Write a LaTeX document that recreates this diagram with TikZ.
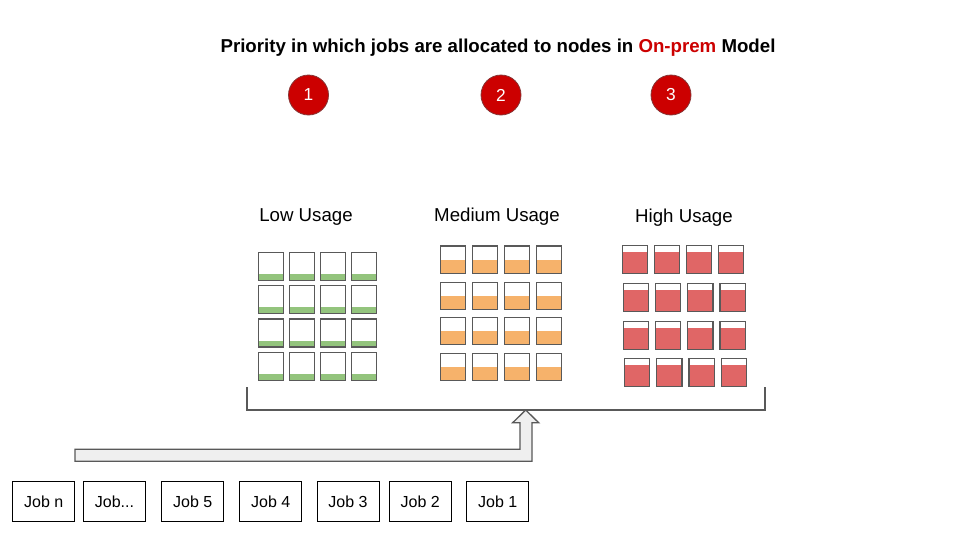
\documentclass[tikz,border=0pt]{standalone}
\usepackage{fontspec}
\setmainfont{Liberation Sans}
\definecolor{lowg}{HTML}{93C47D}
\definecolor{medo}{HTML}{F6B26B}
\definecolor{highr}{HTML}{E06666}
\definecolor{darkr}{HTML}{CC0000}
\definecolor{edge}{HTML}{595959}
\definecolor{arrowfill}{HTML}{EFEFEF}
\begin{document}
\begin{tikzpicture}[x=0.75pt,y=-0.75pt,
  cellbox/.style={draw=edge,line width=1pt},
  jobbox/.style={draw=black,line width=0.75pt,minimum width=46.5pt,minimum height=29.5pt,inner sep=0pt,font=\fontsize{12}{14}\selectfont,anchor=north west},
  prio/.style={circle,fill=darkr,draw=edge!60!darkr,line width=0.6pt,minimum size=30pt,inner sep=0pt,text=white,font=\fontsize{13}{15}\selectfont},
  usage/.style={font=\fontsize{14}{16}\selectfont}]
\useasboundingbox (0,0) rectangle (960,540);
\fill[white] (0,0) rectangle (960,540);
% title
\node[font=\bfseries\fontsize{14}{16}\selectfont] (title) at (498,48) {Priority in which jobs are allocated to nodes in \textcolor{darkr}{On-prem} Model};
\node[prio] (p1) at (308.5,95) {1};
\node[prio] (p2) at (501,95) {2};
\node[prio] (p3) at (671,95) {3};
% usage labels
\node[usage] (low) at (306,217.5) {Low Usage};
\node[usage] (med) at (497,216.5) {Medium Usage};
\node[usage] (high) at (684,217.5) {High Usage};
% low usage grid
\foreach \j in {0,...,3}{
 \foreach \i in {0,...,3}{
  \pgfmathsetmacro{\xl}{258.3+31*\i}
  \pgfmathsetmacro{\yt}{252.3+33.3*\j}
  \fill[lowg] (\xl,\yt+21.7) rectangle (\xl+25,\yt+28);
  \draw[cellbox] (\xl,\yt) rectangle (\xl+25,\yt+28);
 }}
% medium usage grid
\foreach \yt in {246,282.3,317.3,353.3}{
 \foreach \i in {0,...,3}{
  \pgfmathsetmacro{\xl}{440.3+32*\i}
  \fill[medo] (\xl,\yt+13.8) rectangle (\xl+25,\yt+27.5);
  \draw[cellbox] (\xl,\yt) rectangle (\xl+25,\yt+27.5);
 }}
% high usage grid
\foreach \yt/\xo/\xs in {245.3/622.3/32,283.3/623.3/32.2,321.3/623.3/32.2,358.3/624.3/32.3}{
 \foreach \i in {0,...,3}{
  \pgfmathsetmacro{\xl}{\xo+\xs*\i}
  \fill[highr] (\xl,\yt+7) rectangle (\xl+25.3,\yt+28);
  \draw[cellbox] (\xl,\yt) rectangle (\xl+25.3,\yt+28);
 }}
% bracket
\draw[edge,line width=1pt] (247,387) -- (247,410) -- (765,410) -- (765,387);
% block arrow
\draw[edge,fill=arrowfill,line width=1pt,line join=miter]
 (75,449.3) -- (520,449.3) -- (520,422.7) -- (512.7,422.7) -- (525.7,410)
 -- (538.7,422.7) -- (532,422.7) -- (532,461.3) -- (75,461.3) -- cycle;
% jobs
\node[jobbox] (jn) at (12.3,481.3) {Job n};
\node[jobbox] (jd) at (83,481.3) {Job...};
\node[jobbox] (j5) at (161.3,481.3) {Job 5};
\node[jobbox] (j4) at (239.3,481.3) {Job 4};
\node[jobbox] (j3) at (316.5,481.3) {Job 3};
\node[jobbox] (j2) at (388.7,481.3) {Job 2};
\node[jobbox] (j1) at (466.3,481.3) {Job 1};
\end{tikzpicture}
\end{document}
